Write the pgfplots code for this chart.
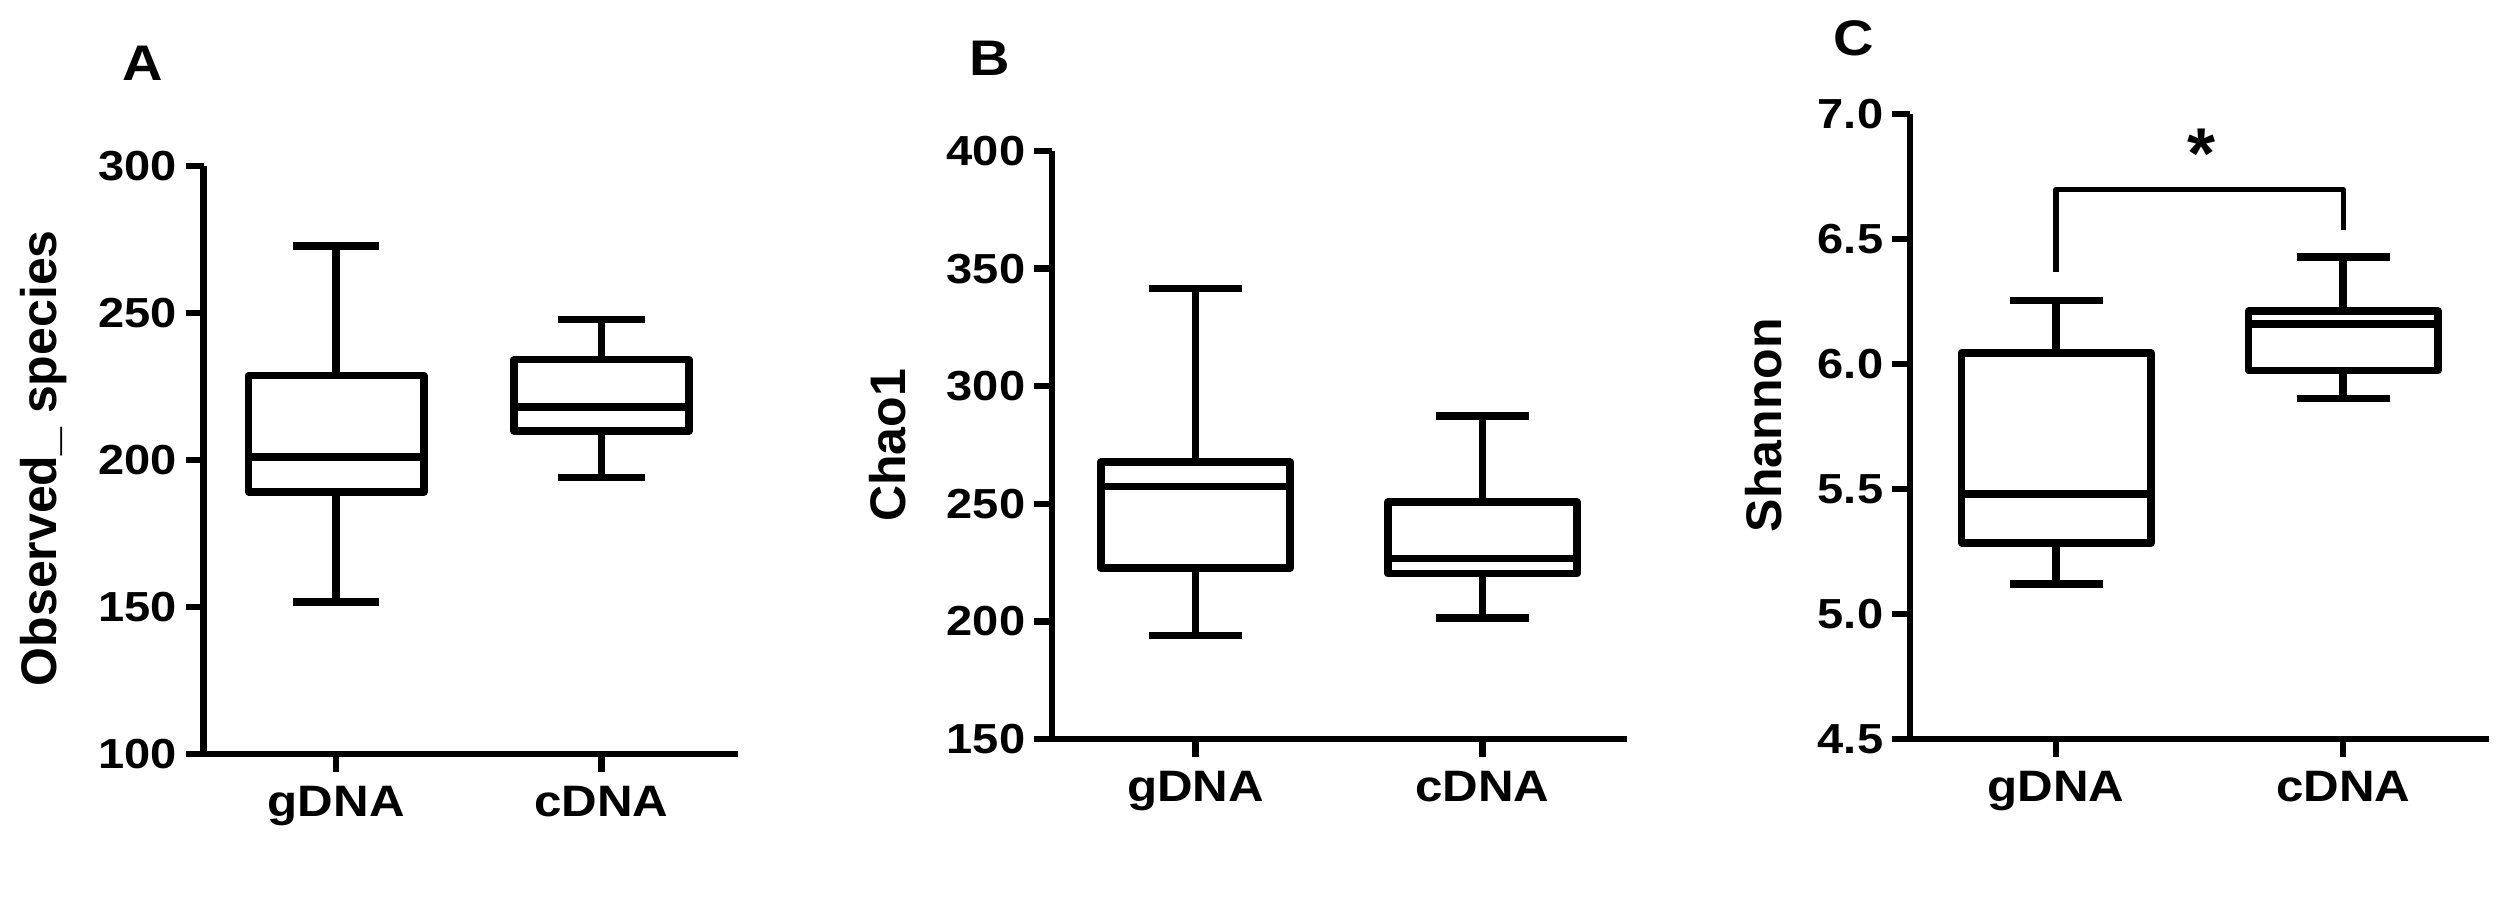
\documentclass[border=0pt]{standalone}
\usepackage{fontspec}
\setmainfont{Liberation Sans}
\newfontfamily\tickfont{Liberation Sans}[FakeStretch=1.12]
\usepackage{pgfplots}
\pgfplotsset{compat=1.18}
\usepgfplotslibrary{statistics}

\pgfplotsset{
  panel/.style={
    scale only axis,
    axis x line=bottom, axis y line=left,
    axis line style={line width=1.6pt, -, black},
    xtick={1,2}, xticklabels={gDNA,cDNA},
    tick align=outside,
    major tick length=4.5pt,
    tick style={line width=1.6pt, black},
    minor tick num=0,
    /pgf/number format/assume math mode=true,
    yticklabel style={font=\tickfont\bfseries\fontsize{10.5}{10.5}\selectfont, inner sep=2pt},
    xticklabel style={font=\tickfont\bfseries\fontsize{11}{11}\selectfont},
    clip=false,
    boxplot/draw direction=y,
  },
  ylab/.style={every axis y label/.style={at={(axis description cs:#1)}, rotate=90, anchor=base, font=\bfseries\fontsize{12.5}{12.5}\selectfont}},
  bx/.style={black, solid, line width=1.9pt, line join=round},
}

\begin{document}
\begin{tikzpicture}
\path[use as bounding box] (0,0) rectangle (625.25pt,227pt);

% Panel A
\begin{axis}[panel,
  at={(50.9pt,38.5pt)}, anchor=south west,
  width=133.6pt, height=147pt,
  xmin=0.5, xmax=2.515, ymin=100, ymax=300,
  ytick={100,150,200,250,300},
  ylabel={Observed\_ species},
  ylab={-0.275,0.503},
]
\addplot[bx, boxplot prepared={draw position=1, lower whisker=151.8, lower quartile=189.2, median=201.1, upper quartile=228.8, upper whisker=272.7, box extend=0.66, whisker extend=0.325}] coordinates {};
\addplot[bx, boxplot prepared={draw position=2, lower whisker=194, lower quartile=209.9, median=218.1, upper quartile=234.2, upper whisker=247.8, box extend=0.66, whisker extend=0.325}] coordinates {};
\end{axis}

% Panel B
\begin{axis}[panel,
  at={(263pt,42.25pt)}, anchor=south west,
  width=143.75pt, height=147pt,
  xmin=0.5, xmax=2.504, ymin=150, ymax=400,
  ytick={150,200,250,300,350,400},
  ylabel={Chao1},
  ylab={-0.255,0.499},
]
\addplot[bx, boxplot prepared={draw position=1, lower whisker=194, lower quartile=222.6, median=257.4, upper quartile=267.7, upper whisker=341.6, box extend=0.66, whisker extend=0.325}] coordinates {};
\addplot[bx, boxplot prepared={draw position=2, lower whisker=201.5, lower quartile=220.3, median=226.7, upper quartile=250.7, upper whisker=287.4, box extend=0.66, whisker extend=0.325}] coordinates {};
\end{axis}

% Panel C
\begin{axis}[panel,
  at={(477.5pt,42.25pt)}, anchor=south west,
  width=144.75pt, height=156.25pt,
  xmin=0.491, xmax=2.508, ymin=4.5, ymax=7.0,
  ytick={4.5,5.0,5.5,6.0,6.5,7.0},
  yticklabel style={/pgf/number format/.cd, fixed, fixed zerofill, precision=1},
  ylabel={Shannon},
  ylab={-0.2225,0.502},
]
\addplot[bx, boxplot prepared={draw position=1, lower whisker=5.119, lower quartile=5.285, median=5.479, upper quartile=6.045, upper whisker=6.254, box extend=0.66, whisker extend=0.323}] coordinates {};
\addplot[bx, boxplot prepared={draw position=2, lower whisker=5.862, lower quartile=5.974, median=6.16, upper quartile=6.211, upper whisker=6.427, box extend=0.66, whisker extend=0.323}] coordinates {};
\addplot[black, line width=1.35pt, line join=round] coordinates {(1,6.369) (1,6.698) (2,6.698) (2,6.535)};
\node[anchor=base, font=\bfseries\fontsize{18}{18}\selectfont, inner sep=0pt] at (axis cs:1.505,6.741) {*};
\end{axis}

% Panel letters
\node[font=\tickfont\bfseries\fontsize{12.5}{12.5}\selectfont, inner sep=0pt] at (35.7pt,211.1pt) {A};
\node[font=\tickfont\bfseries\fontsize{12.5}{12.5}\selectfont, inner sep=0pt] at (247.35pt,212.45pt) {B};
\node[font=\tickfont\bfseries\fontsize{12.5}{12.5}\selectfont, inner sep=0pt] at (463.5pt,217.3pt) {C};
\end{tikzpicture}
\end{document}
